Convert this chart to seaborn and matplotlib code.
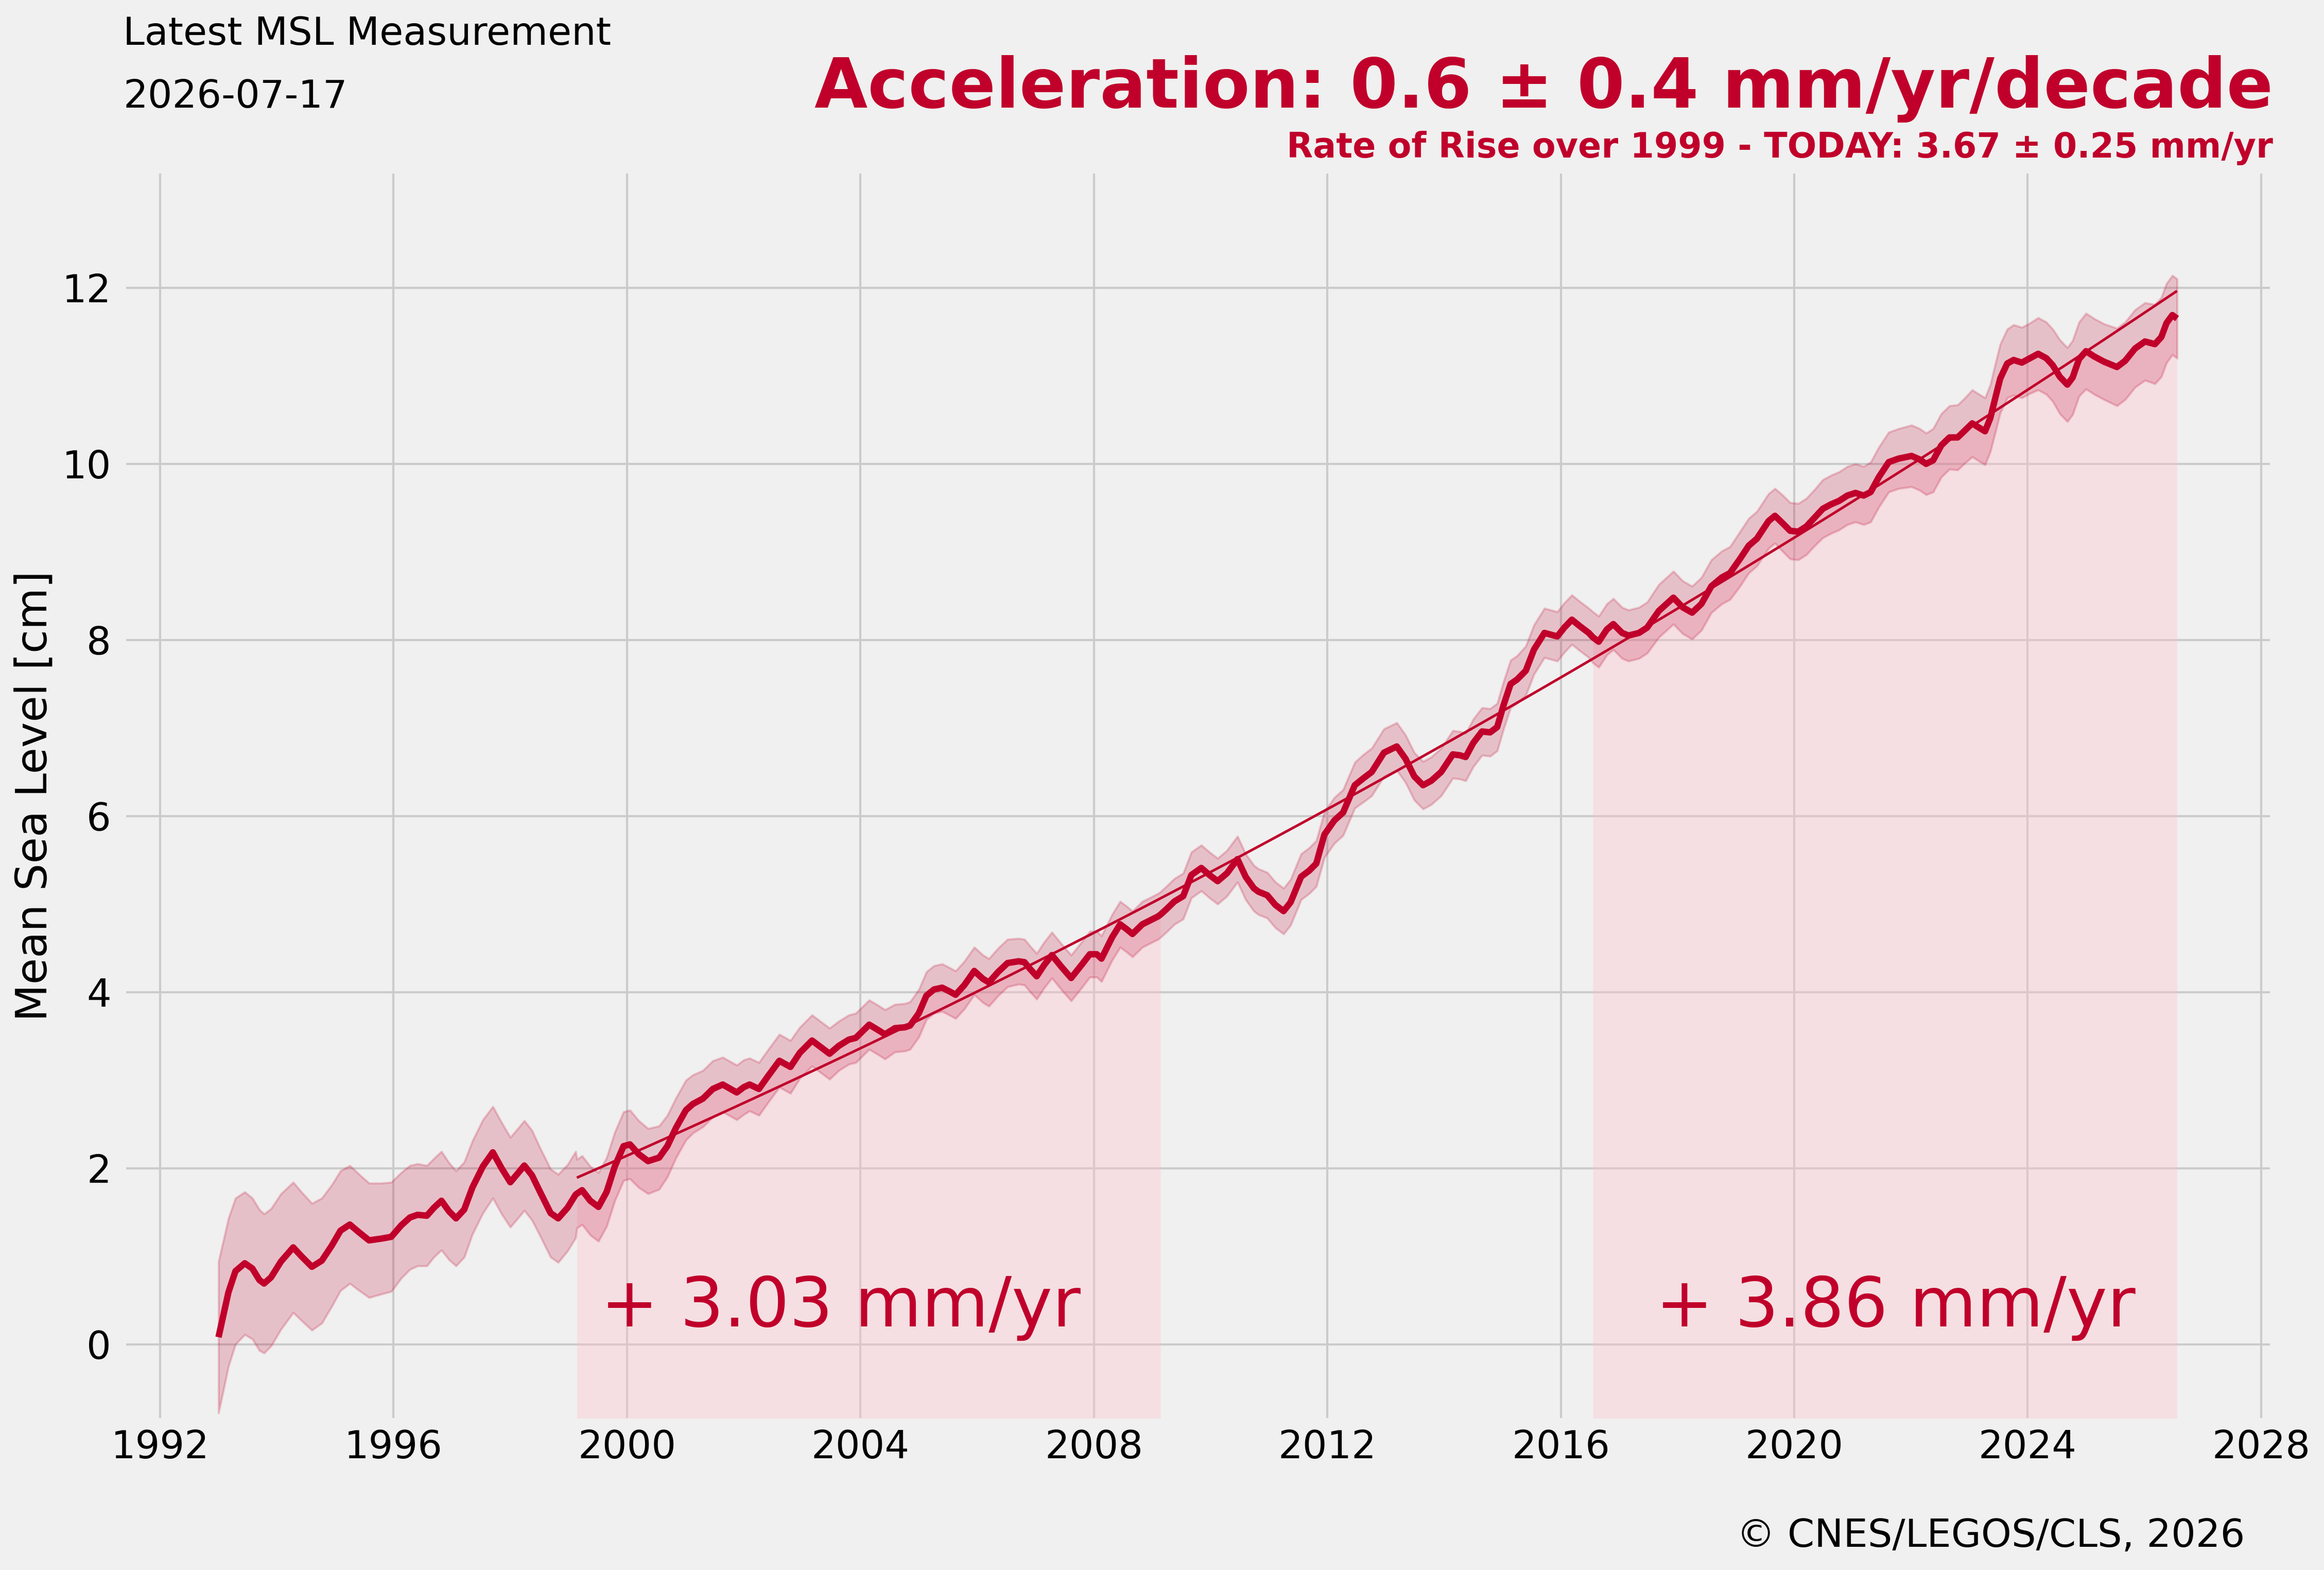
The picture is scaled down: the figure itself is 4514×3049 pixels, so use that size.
import numpy as np
import matplotlib.pyplot as plt
import seaborn as sns

# --- Data ---
years = np.array([
    1993.00, 1993.09, 1993.17, 1993.29, 1993.45, 1993.58, 1993.70, 1993.78, 1993.90, 1994.07,
    1994.28, 1994.42, 1994.60, 1994.77, 1994.94, 1995.09, 1995.25, 1995.41, 1995.58, 1995.79,
    1995.96, 1996.13, 1996.28, 1996.41, 1996.57, 1996.69, 1996.82, 1996.95, 1997.07, 1997.21,
    1997.35, 1997.53, 1997.70, 1997.85, 1998.00, 1998.14, 1998.24, 1998.37, 1998.51, 1998.69,
    1998.82, 1998.98, 1999.12, 1999.14, 1999.23, 1999.37, 1999.51, 1999.65, 1999.79, 1999.94,
    2000.05, 2000.20, 2000.36, 2000.55, 2000.69, 2000.84, 2001.01, 2001.13, 2001.30, 2001.47,
    2001.64, 2001.88, 2002.00, 2002.10, 2002.26, 2002.41, 2002.61, 2002.80, 2002.96, 2003.17,
    2003.33, 2003.47, 2003.63, 2003.80, 2003.92, 2004.15, 2004.30, 2004.42, 2004.59, 2004.76,
    2004.85, 2005.00, 2005.13, 2005.26, 2005.40, 2005.52, 2005.63, 2005.78, 2005.95, 2006.10,
    2006.20, 2006.36, 2006.52, 2006.71, 2006.81, 2006.91, 2007.02, 2007.15, 2007.28, 2007.44,
    2007.61, 2007.79, 2007.93, 2008.05, 2008.13, 2008.31, 2008.45, 2008.57, 2008.66, 2008.83,
    2009.01, 2009.10, 2009.14, 2009.24, 2009.38, 2009.53, 2009.67, 2009.84, 2009.98, 2010.12,
    2010.28, 2010.46, 2010.60, 2010.74, 2010.82, 2010.97, 2011.11, 2011.25, 2011.37, 2011.55,
    2011.69, 2011.81, 2011.95, 2012.12, 2012.27, 2012.47, 2012.62, 2012.76, 2012.97, 2013.19,
    2013.34, 2013.49, 2013.64, 2013.78, 2013.95, 2014.15, 2014.27, 2014.37, 2014.50, 2014.65,
    2014.79, 2014.91, 2015.02, 2015.14, 2015.25, 2015.40, 2015.54, 2015.72, 2015.83, 2015.94,
    2016.06, 2016.19, 2016.32, 2016.48, 2016.55, 2016.65, 2016.79, 2016.90, 2017.05, 2017.16,
    2017.34, 2017.48, 2017.68, 2017.93, 2018.09, 2018.25, 2018.41, 2018.58, 2018.76, 2018.90,
    2019.07, 2019.22, 2019.36, 2019.56, 2019.67, 2019.81, 2019.93, 2020.07, 2020.21, 2020.35,
    2020.49, 2020.63, 2020.77, 2020.91, 2021.05, 2021.19, 2021.31, 2021.45, 2021.62, 2021.79,
    2022.01, 2022.15, 2022.26, 2022.38, 2022.52, 2022.66, 2022.80, 2022.91, 2023.05, 2023.17,
    2023.27, 2023.36, 2023.45, 2023.53, 2023.65, 2023.76, 2023.90, 2024.04, 2024.18, 2024.32,
    2024.43, 2024.55, 2024.68, 2024.77, 2024.88, 2025.00, 2025.14, 2025.31, 2025.53, 2025.67,
    2025.84, 2026.01, 2026.18, 2026.29, 2026.38, 2026.48, 2026.56,
])
msl = np.array([
    0.08, 0.35, 0.59, 0.83, 0.92, 0.86, 0.73, 0.69, 0.76, 0.94,
    1.10, 1.00, 0.88, 0.95, 1.12, 1.29, 1.36, 1.27, 1.18, 1.20,
    1.22, 1.35, 1.44, 1.47, 1.46, 1.55, 1.63, 1.51, 1.43, 1.53,
    1.78, 2.02, 2.18, 2.00, 1.84, 1.95, 2.03, 1.92, 1.73, 1.49,
    1.43, 1.55, 1.70, 1.71, 1.75, 1.63, 1.56, 1.73, 2.02, 2.25,
    2.27, 2.16, 2.08, 2.12, 2.25, 2.46, 2.66, 2.73, 2.79, 2.90,
    2.95, 2.86, 2.92, 2.95, 2.90, 3.04, 3.22, 3.15, 3.31, 3.45,
    3.37, 3.30, 3.39, 3.46, 3.48, 3.63, 3.57, 3.52, 3.59, 3.60,
    3.62, 3.76, 3.96, 4.03, 4.05, 4.01, 3.97, 4.08, 4.24, 4.15,
    4.11, 4.23, 4.33, 4.35, 4.34, 4.26, 4.18, 4.31, 4.42, 4.29,
    4.16, 4.31, 4.43, 4.43, 4.38, 4.62, 4.77, 4.71, 4.66, 4.77,
    4.83, 4.86, 4.88, 4.94, 5.03, 5.09, 5.33, 5.41, 5.33, 5.26,
    5.35, 5.51, 5.31, 5.18, 5.14, 5.10, 4.99, 4.92, 5.02, 5.31,
    5.38, 5.46, 5.79, 5.95, 6.04, 6.35, 6.43, 6.50, 6.72, 6.79,
    6.65, 6.45, 6.35, 6.40, 6.50, 6.70, 6.69, 6.67, 6.83, 6.96,
    6.95, 7.01, 7.26, 7.50, 7.55, 7.65, 7.89, 8.08, 8.06, 8.04,
    8.14, 8.23, 8.16, 8.08, 8.03, 7.98, 8.12, 8.18, 8.08, 8.05,
    8.08, 8.14, 8.33, 8.48, 8.37, 8.31, 8.41, 8.61, 8.71, 8.76,
    8.92, 9.07, 9.15, 9.35, 9.41, 9.32, 9.24, 9.23, 9.29, 9.39,
    9.49, 9.54, 9.58, 9.64, 9.67, 9.64, 9.68, 9.85, 10.02, 10.06,
    10.09, 10.05, 10.00, 10.04, 10.21, 10.30, 10.30, 10.37, 10.46, 10.41,
    10.37, 10.52, 10.76, 10.97, 11.14, 11.18, 11.15, 11.20, 11.25, 11.20,
    11.12, 10.99, 10.90, 10.98, 11.19, 11.28, 11.22, 11.16, 11.10, 11.17,
    11.31, 11.39, 11.36, 11.44, 11.60, 11.69, 11.65,
])
msl_err = np.array([
    0.86, 0.85, 0.84, 0.83, 0.81, 0.80, 0.80, 0.79, 0.78, 0.77,
    0.74, 0.73, 0.72, 0.71, 0.69, 0.68, 0.67, 0.66, 0.65, 0.63,
    0.62, 0.60, 0.59, 0.58, 0.57, 0.56, 0.56, 0.55, 0.54, 0.54,
    0.53, 0.53, 0.52, 0.52, 0.51, 0.51, 0.51, 0.51, 0.50, 0.50,
    0.50, 0.49, 0.49, 0.39, 0.39, 0.39, 0.39, 0.39, 0.39, 0.39,
    0.39, 0.38, 0.37, 0.36, 0.35, 0.34, 0.34, 0.33, 0.32, 0.32,
    0.31, 0.31, 0.31, 0.30, 0.30, 0.30, 0.30, 0.30, 0.29, 0.29,
    0.29, 0.29, 0.28, 0.28, 0.28, 0.28, 0.28, 0.28, 0.27, 0.27,
    0.27, 0.27, 0.27, 0.27, 0.27, 0.27, 0.27, 0.27, 0.27, 0.27,
    0.27, 0.27, 0.27, 0.26, 0.26, 0.26, 0.26, 0.26, 0.26, 0.26,
    0.26, 0.26, 0.26, 0.26, 0.26, 0.26, 0.26, 0.26, 0.26, 0.26,
    0.26, 0.26, 0.26, 0.26, 0.26, 0.26, 0.26, 0.26, 0.26, 0.26,
    0.26, 0.26, 0.26, 0.26, 0.26, 0.26, 0.26, 0.26, 0.26, 0.26,
    0.26, 0.26, 0.26, 0.26, 0.26, 0.26, 0.27, 0.27, 0.27, 0.27,
    0.27, 0.27, 0.27, 0.27, 0.27, 0.27, 0.27, 0.27, 0.27, 0.27,
    0.27, 0.27, 0.27, 0.27, 0.27, 0.28, 0.28, 0.28, 0.28, 0.28,
    0.28, 0.28, 0.28, 0.28, 0.29, 0.29, 0.29, 0.29, 0.29, 0.29,
    0.29, 0.29, 0.30, 0.30, 0.30, 0.30, 0.30, 0.30, 0.30, 0.30,
    0.31, 0.31, 0.31, 0.31, 0.31, 0.32, 0.32, 0.32, 0.32, 0.32,
    0.33, 0.33, 0.33, 0.33, 0.33, 0.33, 0.34, 0.34, 0.34, 0.34,
    0.35, 0.35, 0.35, 0.36, 0.36, 0.36, 0.37, 0.37, 0.38, 0.38,
    0.38, 0.38, 0.39, 0.39, 0.39, 0.40, 0.40, 0.40, 0.41, 0.41,
    0.41, 0.42, 0.42, 0.42, 0.42, 0.43, 0.43, 0.43, 0.44, 0.44,
    0.44, 0.44, 0.45, 0.45, 0.45, 0.45, 0.45,
])

trend_start = 1999.14
windows = [(1999.14, 2009.14), (2016.55, 2026.56)]
window_labels = ['+ 3.03 mm/yr', '+ 3.86 mm/yr']
window_label_x = [1999.55, 2017.63]

header_left = ['Latest MSL Measurement', '2026-07-17']
title = 'Acceleration: 0.6 \u00b1 0.4 mm/yr/decade'
subtitle = 'Rate of Rise over 1999 - TODAY: 3.67 \u00b1 0.25 mm/yr'
credit = '\u00a9 CNES/LEGOS/CLS, 2026'

red = '#c0002b'

# --- Figure ---
plt.style.use('fivethirtyeight')
plt.rcParams['font.family'] = ['DejaVu Sans']

fig = plt.figure(figsize=(4514 / 300, 3049 / 300), dpi=300, facecolor='#f0f0f0')
ax = fig.add_axes([0.0543, 0.0968, 0.9224, 0.7928])
ax.set_facecolor('#f0f0f0')

y_bottom = -0.838
for (start, end) in windows:
    m = (years >= start) & (years <= end)
    ax.fill_between(years[m], y_bottom - 5, msl[m], color='pink', alpha=0.35, lw=0, zorder=1)

ax.fill_between(years, msl - msl_err, msl + msl_err, color=red, alpha=0.2, lw=1, zorder=2)

sns.lineplot(x=years, y=msl, ax=ax, color=red, linewidth=3, zorder=4,
             solid_joinstyle='round', solid_capstyle='butt')

# quadratic trend fitted to the data since 1999
m = years >= trend_start
coef = np.polyfit(years[m], msl[m], 2)
sns.lineplot(x=years[m], y=np.polyval(coef, years[m]), ax=ax, color=red, linewidth=1.2, zorder=3)

for lab, lx in zip(window_labels, window_label_x):
    ax.text(lx, 0.2, lab, fontsize=32, color=red, va='baseline', ha='left', zorder=5)

ax.set_xlim(1991.418, 2028.15)
ax.set_ylim(y_bottom, 13.30)
ax.set_xticks(np.arange(1992, 2029, 4))
ax.set_yticks(np.arange(0, 13, 2))
ax.tick_params(axis='x', labelsize=18, pad=5, length=0, colors='black')
ax.tick_params(axis='y', labelsize=18, pad=7, length=0, colors='black')
ax.grid(True, color='#cbcbcb', lw=1)
ax.set_xlabel('')
ax.set_ylabel('Mean Sea Level [cm]', fontsize=20, labelpad=3, color='black')
for s in ax.spines.values():
    s.set_visible(False)

fig.text(0.053, 0.9714, header_left[0], fontsize=18, va='baseline', ha='left')
fig.text(0.053, 0.9314, header_left[1], fontsize=18, va='baseline', ha='left')
fig.text(0.978, 0.9314, title, fontsize=32, weight='bold', color=red, va='baseline', ha='right')
fig.text(0.978, 0.8996, subtitle, fontsize=16, weight='bold', color=red, va='baseline', ha='right')
fig.text(0.966, 0.0149, credit, fontsize=18, va='baseline', ha='right')

fig.savefig('out.png', dpi=300, facecolor='#f0f0f0')
